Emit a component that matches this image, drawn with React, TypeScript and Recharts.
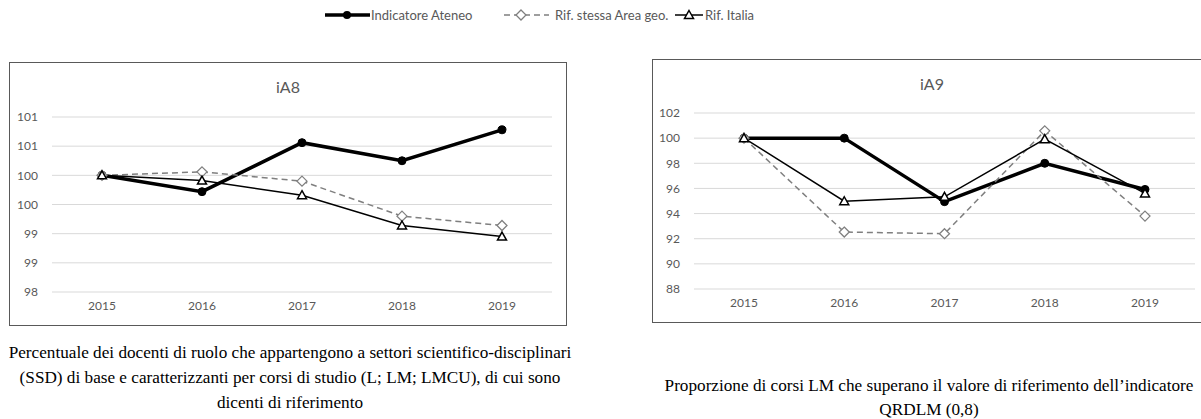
import React from 'react';
import { LineChart, Line, XAxis, YAxis, CartesianGrid } from 'recharts';

const years = ['2015', '2016', '2017', '2018', '2019'];

const iA8Ateneo = [100, 99.72, 100.56, 100.25, 100.78];
const iA8Area = [100, 100.06, 99.9, 99.3, 99.14];
const iA8Italia = [100, 99.91, 99.66, 99.14, 98.95];
const iA8Ticks = [98, 98.5, 99, 99.5, 100, 100.5, 101];

const iA9Ateneo = [100, 100, 94.95, 98, 95.92];
const iA9Area = [100, 92.53, 92.4, 100.58, 93.8];
const iA9Italia = [100, 94.98, 95.33, 99.92, 95.6];
const iA9Ticks = [88, 90, 92, 94, 96, 98, 100, 102];

const seriesNames = ['Indicatore Ateneo', 'Rif. stessa Area geo.', 'Rif. Italia'];

const FONT = 'Lato, "Noto Sans", sans-serif';
const TEXT = '#595959';

const buildRows = (a: number[], b: number[], c: number[]) =>
  years.map((y, i) => ({ year: y, ateneo: a[i], area: b[i], italia: c[i] }));

const iA8Data = buildRows(iA8Ateneo, iA8Area, iA8Italia);
const iA9Data = buildRows(iA9Ateneo, iA9Area, iA9Italia);

const CircleDot = (p: any) => (
  <circle key={`c-${p.index}`} cx={p.cx} cy={p.cy} r={4} fill="#000" stroke="#000" strokeWidth={1} />
);
const DiamondDot = (p: any) => {
  const { cx, cy } = p;
  return (
    <path
      key={`d-${p.index}`}
      d={`M${cx},${cy - 5} L${cx + 5},${cy} L${cx},${cy + 5} L${cx - 5},${cy} Z`}
      fill="#fff"
      stroke="#7f7f7f"
      strokeWidth={1.25}
    />
  );
};
const TriangleDot = (p: any) => {
  const { cx, cy } = p;
  return (
    <path
      key={`t-${p.index}`}
      d={`M${cx},${cy - 4.5} L${cx + 4.5},${cy + 3.5} L${cx - 4.5},${cy + 3.5} Z`}
      fill="#fff"
      stroke="#000"
      strokeWidth={1.5}
    />
  );
};

type PanelProps = {
  data: any[];
  ticks: number[];
  title: string;
  left: number;
  top: number;
  width: number;
  height: number;
  yWidth: number;
  margin: { top: number; right: number; bottom: number; left: number };
  fmt: (v: number) => string;
};

const Panel = ({ data, ticks, title, left, top, width, height, yWidth, margin, fmt }: PanelProps) => (
  <div
    style={{
      position: 'absolute',
      left,
      top,
      width,
      height,
      background: '#fff',
    }}
  >
    <LineChart width={width} height={height} data={data} margin={margin}>
      <CartesianGrid vertical={false} stroke="#d9d9d9" strokeWidth={1} />
      <XAxis
        dataKey="year"
        axisLine={false}
        tickLine={false}
        tickSize={0}
        tickMargin={9}
        height={30}
        padding={{ left: 50, right: 50 }}
        tick={{ fill: TEXT, fontSize: 12, fontFamily: FONT }}
      />
      <YAxis
        type="number"
        domain={[ticks[0], ticks[ticks.length - 1]]}
        ticks={ticks}
        interval={0}
        width={yWidth}
        axisLine={false}
        tickLine={false}
        tickSize={0}
        tickMargin={14}
        tickFormatter={fmt}
        tick={{ fill: TEXT, fontSize: 12, fontFamily: FONT }}
      />
      <Line
        dataKey="ateneo"
        name={seriesNames[0]}
        stroke="#000"
        strokeWidth={3.5}
        dot={CircleDot}
        isAnimationActive={false}
      />
      <Line
        dataKey="area"
        name={seriesNames[1]}
        stroke="#7f7f7f"
        strokeWidth={1.5}
        strokeDasharray="6 4"
        dot={DiamondDot}
        isAnimationActive={false}
      />
      <Line
        dataKey="italia"
        name={seriesNames[2]}
        stroke="#000"
        strokeWidth={1.5}
        dot={TriangleDot}
        isAnimationActive={false}
      />
    </LineChart>
    <div
      style={{
        position: 'absolute',
        left: 0,
        top: 0,
        width,
        height,
        boxSizing: 'border-box',
        border: '1.5px solid #595959',
        pointerEvents: 'none',
      }}
    />
    <div
      style={{
        position: 'absolute',
        left: 0,
        width,
        top: 15,
        textAlign: 'center',
        fontFamily: FONT,
        fontSize: 16,
        lineHeight: '20px',
        color: TEXT,
      }}
    >
      {title}
    </div>
  </div>
);

const Legend = () => (
  <svg width={1201} height={30} style={{ position: 'absolute', left: 0, top: 0 }}>
    <line x1={325} x2={370} y1={15} y2={15} stroke="#000" strokeWidth={3.5} />
    <circle cx={347} cy={15} r={4} fill="#000" />
    <text x={371} y={15} dominantBaseline="central" fontFamily={FONT} fontSize={13} fill={TEXT}>
      {seriesNames[0]}
    </text>
    <line x1={504} x2={549} y1={15} y2={15} stroke="#7f7f7f" strokeWidth={1.5} strokeDasharray="6 4" />
    <path d="M521,10 L526,15 L521,20 L516,15 Z" fill="#fff" stroke="#7f7f7f" strokeWidth={1.25} />
    <text x={555} y={15} dominantBaseline="central" fontFamily={FONT} fontSize={13} fill={TEXT}>
      {seriesNames[1]}
    </text>
    <line x1={675} x2={703} y1={15} y2={15} stroke="#000" strokeWidth={1.5} />
    <path d="M689,10.5 L693.5,18.5 L684.5,18.5 Z" fill="#fff" stroke="#000" strokeWidth={1.5} />
    <text x={705} y={15} dominantBaseline="central" fontFamily={FONT} fontSize={13} fill={TEXT}>
      {seriesNames[2]}
    </text>
  </svg>
);

const captionStyle: React.CSSProperties = {
  position: 'absolute',
  width: 700,
  textAlign: 'center',
  fontFamily: '"Liberation Serif", "DejaVu Serif", serif',
  fontSize: 17.2,
  color: '#000',
  whiteSpace: 'nowrap',
};

export default function App() {
  return (
    <div
      style={{
        position: 'absolute',
        left: 0,
        top: 0,
        width: 1201,
        height: 419,
        overflow: 'hidden',
        background: '#fff',
      }}
    >
      <Legend />
      <Panel
        data={iA8Data}
        ticks={iA8Ticks}
        title="iA8"
        left={9}
        top={62}
        width={558}
        height={264}
        yWidth={43}
        margin={{ top: 55, right: 15, bottom: 4, left: 0 }}
        fmt={(v: number) => String(Math.round(v))}
      />
      <Panel
        data={iA9Data}
        ticks={iA9Ticks}
        title="iA9"
        left={652}
        top={59}
        width={560}
        height={264}
        yWidth={42}
        margin={{ top: 54, right: 17, bottom: 4, left: 0 }}
        fmt={(v: number) => String(v)}
      />
      <div style={{ ...captionStyle, left: 290 - 350, top: 340, lineHeight: '25px' }}>
        Percentuale dei docenti di ruolo che appartengono a settori scientifico-disciplinari
        <br />
        (SSD) di base e caratterizzanti per corsi di studio (L; LM; LMCU), di cui sono
        <br />
        dicenti di riferimento
      </div>
      <div style={{ ...captionStyle, left: 929 - 350, top: 374, lineHeight: '24px' }}>
        Proporzione di corsi LM che superano il valore di riferimento dell’indicatore
        <br />
        QRDLM (0,8)
      </div>
    </div>
  );
}
